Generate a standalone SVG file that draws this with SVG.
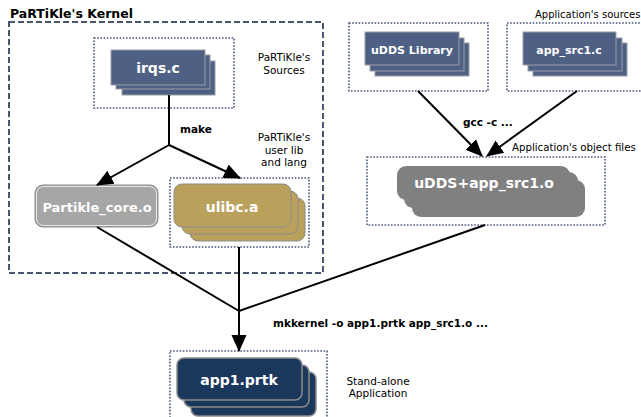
<svg xmlns="http://www.w3.org/2000/svg" width="641" height="417" viewBox="0 0 641 417">
<style>
text{font-family:"DejaVu Sans",Verdana,sans-serif;}
.lbl{font-size:10.5px;fill:#000;text-anchor:middle;}
.lbll{font-size:10.5px;fill:#000;}
.cmd{font-size:10.5px;font-weight:bold;fill:#000;}
.nt{font-weight:bold;fill:#fff;text-anchor:middle;}
.dot{fill:none;stroke:#4a5878;stroke-width:1.6;stroke-dasharray:1.6 1.6;}
.kern{fill:none;stroke:#4a5670;stroke-width:2;stroke-dasharray:6 3;}
.blue{fill:#4e6083;stroke:#9a9ea8;stroke-width:1;}
.gold{fill:#b9a15b;stroke:#8c8c8c;stroke-width:1;}
.navy{fill:#1a375c;stroke:#8c8c8c;stroke-width:1.5;}
.gray{fill:#808080;}
.conn line,.conn path{stroke:#000;stroke-width:2;fill:none;}
</style>
<defs>
<marker id="arr" markerUnits="userSpaceOnUse" markerWidth="17" markerHeight="17" viewBox="0 0 17 17" refX="16" refY="8.5" orient="auto">
<path d="M0,1 L17,8.5 L0,16 Z" fill="#000"/>
</marker>
</defs>

<g id="kernel">
<rect class="kern" x="9" y="22" width="314" height="251"/>
<text x="10" y="18" style="font-size:12.5px;font-weight:bold;fill:#000">PaRTiKle's Kernel</text>
</g>

<g id="irqs">
<rect class="dot" x="94" y="38" width="140" height="70"/>
<rect class="blue" x="122" y="61" width="93" height="34"/>
<rect class="blue" x="116" y="55" width="94" height="34"/>
<rect class="blue" x="111" y="50" width="94" height="35"/>
<text class="nt" x="158" y="73" style="font-size:14px">irqs.c</text>
<text class="lbl" x="284" y="61">PaRTiKle's</text>
<text class="lbl" x="284" y="74">Sources</text>
</g>

<g id="partikle_core">
<rect x="35" y="185" width="123" height="42" rx="8" fill="#a6a6a6" stroke="#8a8a8a" stroke-width="1"/>
<rect x="36.5" y="186.5" width="120" height="39" rx="7" fill="none" stroke="#e8e8e8" stroke-width="1"/>
<text class="nt" x="97" y="212" style="font-size:13px">Partikle_core.o</text>
</g>

<g id="ulibc">
<rect class="dot" x="170" y="178" width="139" height="69"/>
<rect class="gold" x="190" y="198" width="115" height="43" rx="8"/>
<rect class="gold" x="182" y="191" width="116" height="43" rx="8"/>
<rect class="gold" x="174" y="184" width="117" height="43" rx="8"/>
<text class="nt" x="232" y="212" style="font-size:14px">ulibc.a</text>
<text class="lbl" x="284" y="141">PaRTiKle's</text>
<text class="lbl" x="284" y="154">user lib</text>
<text class="lbl" x="284" y="166">and lang</text>
</g>

<g id="udds">
<rect class="dot" x="349" y="23" width="139" height="68"/>
<rect class="blue" x="375" y="43" width="94" height="33"/>
<rect class="blue" x="370" y="38" width="94" height="33"/>
<rect class="blue" x="365" y="32" width="94" height="33"/>
<text class="nt" x="412" y="54" style="font-size:11px">uDDS Library</text>
</g>

<g id="app_src">
<rect class="dot" x="507" y="23" width="140" height="68"/>
<rect class="blue" x="533" y="43" width="94" height="33"/>
<rect class="blue" x="528" y="38" width="94" height="33"/>
<rect class="blue" x="523" y="32" width="93" height="33"/>
<text class="nt" x="569" y="54" style="font-size:11px">app_src1.c</text>
<text x="535" y="18" style="font-size:10px;fill:#000">Application's sources</text>
</g>

<g id="obj">
<rect class="dot" x="367" y="157" width="238" height="68"/>
<rect class="gray" x="412" y="180" width="173" height="37" rx="9"/>
<rect class="gray" x="404" y="172" width="174" height="36" rx="9"/>
<rect class="gray" x="397" y="166" width="173" height="34" rx="9"/>
<text class="nt" x="484" y="188" style="font-size:14px">uDDS+app_src1.o</text>
<text class="lbll" x="512" y="151" style="font-size:10.2px">Application's object files</text>
</g>

<g id="app1">
<rect class="dot" x="170" y="351" width="157" height="70"/>
<rect class="navy" x="191" y="372" width="125" height="44" rx="7"/>
<rect class="navy" x="184" y="365" width="125" height="42" rx="7"/>
<rect class="navy" x="177" y="358" width="125" height="42" rx="7"/>
<text class="nt" x="239" y="385" style="font-size:14px">app1.prtk</text>
<text class="lbl" x="378" y="385">Stand-alone</text>
<text class="lbl" x="378" y="397">Application</text>
</g>

<g id="connectors" class="conn">
<line x1="169" y1="95" x2="169" y2="145"/>
<line x1="169" y1="145" x2="97" y2="185" marker-end="url(#arr)"/>
<line x1="169" y1="145" x2="240" y2="178" marker-end="url(#arr)"/>
<line x1="97" y1="227" x2="239" y2="311"/>
<line x1="239" y1="247" x2="239" y2="311"/>
<line x1="485" y1="225" x2="239" y2="311"/>
<line x1="239" y1="311" x2="239" y2="351" marker-end="url(#arr)"/>
<line x1="418" y1="91" x2="482" y2="156" marker-end="url(#arr)"/>
<line x1="577" y1="91" x2="487" y2="156" marker-end="url(#arr)"/>
<text class="cmd" x="180" y="133">make</text>
<text class="cmd" x="463" y="126">gcc -c ...</text>
<text class="cmd" x="273" y="327">mkkernel -o app1.prtk app_src1.o ...</text>
</g>
</svg>
